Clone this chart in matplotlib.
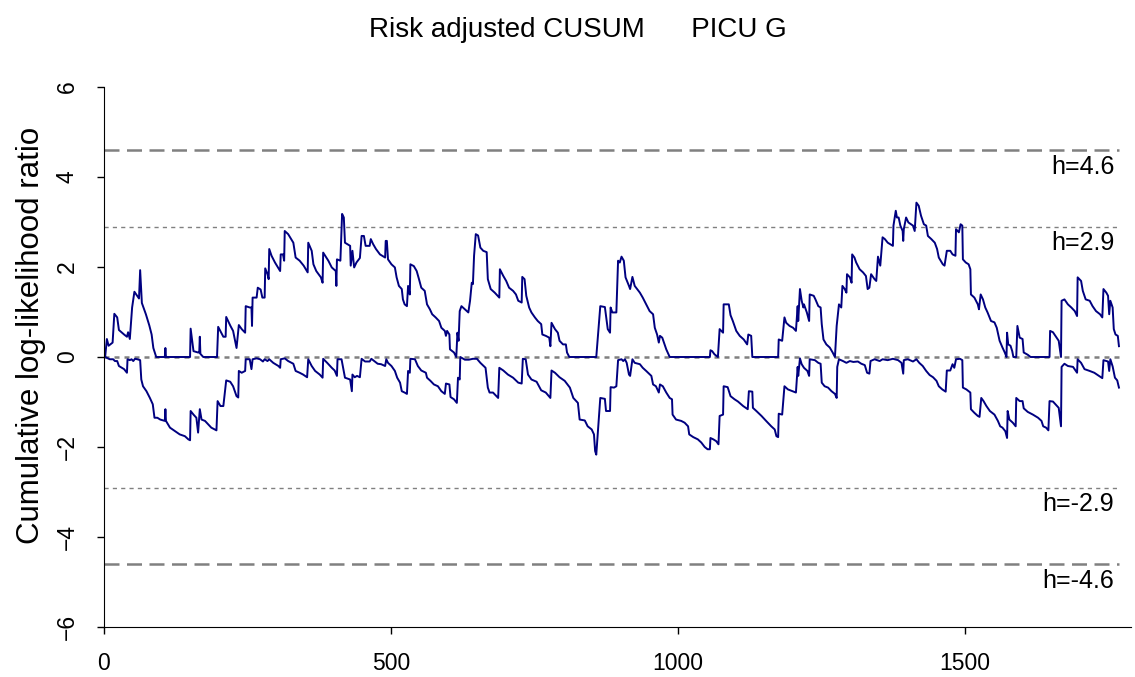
import matplotlib
matplotlib.use("Agg")
import matplotlib.pyplot as plt
import numpy as np

# upper CUSUM (detecting increase in risk), (case number, log-likelihood ratio)
upper = np.array([
    (2, 0), (5, 0.4), (8, 0.25), (15, 0.32), (18, 0.96), (23, 0.88), (26, 0.6), (35, 0.5),
    (40, 0.45), (42, 0.55), (45, 0.4), (49, 1.1), (53, 1.45), (61, 1.3), (63, 1.93), (66, 1.2),
    (73, 0.95), (79, 0.7), (83, 0.5), (86, 0.2), (91, 0), (106, 0), (107, 0.2), (108, 0),
    (150, 0), (151, 0.63), (156, 0.13), (164, 0.1), (166, 0.1), (167, 0.45), (168, 0.07), (173, 0),
    (197, 0), (199, 0.67), (208, 0.45), (212, 0.45), (213, 0.89), (220, 0.7), (225, 0.58), (231, 0.2),
    (235, 0.71), (240, 0.62), (246, 0.54), (247, 1.13), (254, 1.1), (257, 1.1), (258, 0.69), (259, 1.32),
    (266, 1.32), (268, 1.54), (273, 1.5), (276, 1.32), (280, 1.32), (281, 1.97), (285, 1.84), (287, 1.73),
    (288, 2.4), (292, 2.25), (298, 2.1), (307, 1.91), (308, 2.28), (312, 2.28), (314, 2.14), (315, 2.8),
    (321, 2.73), (330, 2.54), (334, 2.21), (341, 2.14), (348, 2.03), (355, 1.88), (356, 2.54), (362, 2.36),
    (365, 2.06), (370, 1.91), (378, 1.77), (381, 1.65), (382, 2.32), (391, 2.14), (397, 1.99), (404, 1.91),
    (405, 1.58), (406, 2.17), (412, 2.14), (415, 3.18), (418, 3.1), (420, 2.54), (429, 2.47), (430, 2.03),
    (433, 2.36), (436, 1.99), (440, 2.1), (446, 2.2), (449, 2.69), (453, 2.69), (456, 2.47), (463, 2.47),
    (465, 2.62), (469, 2.51), (474, 2.4), (481, 2.28), (490, 2.21), (491, 2.58), (493, 2.58), (495, 2.17),
    (501, 2.06), (507, 1.99), (510, 1.77), (514, 1.58), (519, 1.51), (521, 1.28), (524, 1.17), (528, 1.13),
    (530, 1.58), (533, 1.39), (534, 2.06), (540, 2.02), (545, 1.91), (549, 1.73), (553, 1.54), (559, 1.47),
    (563, 1.17), (568, 1.06), (572, 0.95), (578, 0.88), (584, 0.8), (588, 0.65), (594, 0.58), (596, 0.47),
    (598, 0.58), (602, 0.5), (603, 0.17), (610, 0.1), (614, 0), (616, 0.54), (618, 0.36), (620, 1.02),
    (623, 1.13), (629, 1.06), (635, 0.99), (638, 1.25), (641, 1.65), (643, 1.62), (645, 2.25), (648, 2.73),
    (652, 2.7), (656, 2.43), (661, 2.36), (667, 2.33), (669, 1.73), (674, 1.51), (681, 1.43), (689, 1.32),
    (690, 1.95), (696, 1.8), (701, 1.69), (706, 1.54), (713, 1.47), (718, 1.39), (722, 1.25), (728, 1.21),
    (729, 1.78), (733, 1.73), (736, 1.36), (741, 1.1), (745, 0.99), (751, 0.88), (756, 0.8), (762, 0.73),
    (764, 0.5), (770, 0.47), (776, 0.43), (778, 0.24), (780, 0.76), (786, 0.62), (791, 0.54), (794, 0.36),
    (800, 0.28), (805, 0.28), (807, 0.1), (811, 0), (858, 0), (865, 1.13), (873, 1.11), (875, 0.91),
    (878, 0.62), (882, 0.54), (883, 1.1), (886, 0.99), (893, 0.99), (896, 2.14), (899, 2.1), (902, 2.23),
    (906, 2.14), (909, 1.77), (915, 1.58), (917, 1.51), (921, 1.78), (925, 1.58), (934, 1.43), (939, 1.32),
    (945, 1.17), (951, 1.02), (957, 0.95), (960, 0.65), (964, 0.5), (967, 0.32), (969, 0.47), (973, 0.43),
    (977, 0.28), (980, 0.17), (986, 0), (1056, 0), (1057, 0.15), (1060, 0.13), (1064, 0.06), (1070, 0),
    (1073, 0.62), (1079, 0.54), (1080, 1.17), (1089, 1.17), (1092, 0.93), (1096, 0.8), (1102, 0.58), (1108, 0.47),
    (1115, 0.39), (1121, 0.28), (1123, 0.5), (1128, 0.47), (1130, 0), (1175, 0), (1176, 0.39), (1182, 0.36),
    (1186, 0.88), (1189, 0.76), (1195, 0.69), (1201, 0.65), (1206, 0.58), (1209, 1.13), (1210, 0.8), (1213, 1.51),
    (1216, 1.25), (1219, 1.1), (1220, 1.17), (1225, 0.99), (1229, 0.8), (1230, 1.39), (1237, 1.36), (1240, 1.28),
    (1245, 1.13), (1249, 1.1), (1251, 0.73), (1254, 0.39), (1259, 0.28), (1265, 0.21), (1270, 0.1), (1274, 0),
    (1277, 0.69), (1281, 1.17), (1285, 1.1), (1287, 1.58), (1291, 1.51), (1294, 1.43), (1295, 1.84), (1300, 1.77),
    (1303, 1.65), (1304, 2.28), (1308, 2.21), (1311, 2.1), (1317, 1.95), (1323, 1.88), (1328, 1.8), (1331, 1.51),
    (1334, 1.54), (1337, 1.84), (1343, 1.73), (1346, 1.69), (1349, 2.23), (1353, 2.03), (1357, 2.66), (1361, 2.62),
    (1366, 2.54), (1375, 2.47), (1376, 2.92), (1380, 3.25), (1382, 3.1), (1385, 3.1), (1388, 2.92), (1392, 2.8),
    (1393, 2.58), (1394, 2.84), (1398, 3.1), (1402, 2.99), (1410, 2.92), (1413, 2.8), (1416, 3.43), (1420, 3.36),
    (1424, 3.14), (1429, 2.95), (1433, 2.92), (1436, 2.69), (1442, 2.62), (1448, 2.54), (1452, 2.4), (1455, 2.21),
    (1462, 2.06), (1465, 2.03), (1469, 2.36), (1475, 2.36), (1479, 2.28), (1484, 2.25), (1485, 2.84), (1490, 2.77),
    (1493, 2.95), (1496, 2.92), (1497, 2.17), (1502, 2.1), (1507, 2.06), (1510, 1.95), (1511, 1.39), (1517, 1.32),
    (1523, 1.17), (1525, 1.06), (1528, 1.39), (1532, 1.28), (1536, 1.1), (1540, 0.99), (1546, 0.8), (1552, 0.77),
    (1556, 0.65), (1561, 0.36), (1566, 0.21), (1570, 0.1), (1573, 0), (1574, 0.54), (1576, 0.28), (1580, 0.25),
    (1583, 0.13), (1585, 0), (1590, 0), (1592, 0.69), (1596, 0.43), (1601, 0.4), (1603, 0.1), (1610, 0.05),
    (1615, 0), (1648, 0), (1649, 0.58), (1654, 0.55), (1664, 0.36), (1668, 0), (1669, 1.25), (1674, 1.28),
    (1680, 1.17), (1686, 1.1), (1692, 1.02), (1696, 0.91), (1697, 1.77), (1703, 1.69), (1706, 1.47), (1711, 1.28),
    (1718, 1.25), (1723, 1.13), (1729, 1.02), (1736, 0.95), (1740, 0.88), (1742, 1.51), (1747, 1.43), (1750, 1.36),
    (1752, 0.95), (1754, 1.25), (1758, 1.1), (1760, 0.62), (1763, 0.5), (1767, 0.47), (1769, 0.24),
])

# lower CUSUM (detecting decrease in risk)
lower = np.array([
    (2, 0), (10, -0.05), (16, -0.05), (19, -0.09), (23, -0.09), (26, -0.2), (31, -0.24), (35, -0.27),
    (40, -0.35), (41, -0.05), (45, -0.07), (48, -0.05), (51, -0.09), (54, -0.04), (58, -0.05), (63, -0.07),
    (65, -0.5), (68, -0.65), (74, -0.76), (80, -0.91), (85, -1.05), (88, -1.35), (93, -1.35), (98, -1.39),
    (106, -1.42), (107, -1.16), (108, -1.42), (115, -1.57), (124, -1.65), (132, -1.72), (141, -1.76), (147, -1.83),
    (150, -1.85), (151, -1.2), (156, -1.28), (161, -1.35), (164, -1.68), (167, -1.16), (170, -1.39), (176, -1.42),
    (179, -1.46), (187, -1.57), (196, -1.63), (198, -0.98), (203, -1.09), (208, -1.09), (213, -0.52), (220, -0.55),
    (225, -0.65), (231, -0.87), (234, -0.9), (235, -0.31), (240, -0.35), (246, -0.31), (247, -0.05), (254, -0.05),
    (257, -0.27), (259, -0.05), (266, -0.03), (272, -0.05), (277, -0.1), (280, -0.05), (285, -0.09), (288, -0.05),
    (295, -0.13), (304, -0.2), (307, -0.24), (308, -0.05), (315, -0.03), (321, -0.09), (330, -0.15), (334, -0.31),
    (341, -0.35), (347, -0.39), (354, -0.45), (356, -0.05), (362, -0.2), (368, -0.31), (376, -0.39), (381, -0.46),
    (382, -0.04), (389, -0.13), (397, -0.24), (402, -0.3), (406, -0.42), (407, -0.05), (414, -0.05), (420, -0.46),
    (429, -0.5), (432, -0.76), (433, -0.39), (437, -0.45), (441, -0.42), (446, -0.45), (449, -0.04), (455, -0.1),
    (463, -0.1), (466, -0.04), (472, -0.1), (477, -0.15), (483, -0.16), (490, -0.2), (492, -0.05), (495, -0.13),
    (501, -0.2), (507, -0.31), (511, -0.46), (516, -0.57), (519, -0.76), (524, -0.79), (528, -0.82), (530, -0.31),
    (533, -0.35), (534, -0.04), (542, -0.05), (547, -0.2), (553, -0.3), (561, -0.35), (563, -0.46), (569, -0.53),
    (575, -0.61), (582, -0.65), (588, -0.76), (594, -0.82), (596, -0.59), (602, -0.61), (604, -0.89), (610, -0.94),
    (615, -1.02), (617, -0.46), (620, -0.5), (621, 0), (629, -0.06), (636, -0.06), (643, -0.04), (650, -0.04),
    (656, -0.13), (665, -0.24), (669, -0.68), (672, -0.79), (678, -0.79), (687, -0.91), (689, -0.24), (696, -0.3),
    (704, -0.39), (713, -0.46), (722, -0.57), (728, -0.59), (730, -0.04), (735, -0.05), (739, -0.39), (745, -0.5),
    (754, -0.55), (762, -0.74), (770, -0.79), (778, -0.91), (780, -0.3), (786, -0.35), (794, -0.45), (803, -0.53),
    (812, -0.68), (818, -0.91), (826, -1.02), (829, -1.39), (838, -1.41), (843, -1.54), (850, -1.61), (854, -1.72),
    (856, -2.09), (858, -2.17), (865, -0.91), (873, -0.93), (875, -1.2), (882, -1.2), (883, -0.67), (889, -0.68),
    (893, -0.65), (896, -0.07), (902, -0.05), (905, -0.09), (908, -0.05), (911, -0.13), (915, -0.39), (917, -0.42),
    (921, -0.05), (925, -0.13), (934, -0.16), (939, -0.24), (945, -0.31), (954, -0.42), (957, -0.61), (962, -0.65),
    (967, -0.79), (969, -0.61), (974, -0.65), (980, -0.79), (986, -0.91), (990, -0.94), (991, -1.28), (997, -1.39),
    (1006, -1.42), (1012, -1.46), (1018, -1.54), (1020, -1.72), (1027, -1.78), (1035, -1.83), (1041, -1.9), (1047, -2.0),
    (1052, -2.05), (1056, -2.05), (1057, -1.8), (1062, -1.83), (1067, -1.87), (1071, -1.94), (1073, -1.31), (1079, -1.28),
    (1080, -0.65), (1087, -0.67), (1092, -0.87), (1099, -0.94), (1105, -0.99), (1114, -1.09), (1122, -1.16), (1124, -0.76),
    (1130, -0.77), (1131, -1.13), (1137, -1.2), (1146, -1.31), (1154, -1.42), (1163, -1.54), (1169, -1.61), (1172, -1.76),
    (1175, -1.78), (1176, -1.26), (1182, -1.28), (1186, -0.65), (1192, -0.72), (1200, -0.76), (1206, -0.79), (1209, -0.22),
    (1210, -0.42), (1213, -0.03), (1216, -0.16), (1220, -0.24), (1226, -0.31), (1229, -0.42), (1230, -0.05), (1239, -0.07),
    (1245, -0.13), (1249, -0.15), (1251, -0.57), (1256, -0.65), (1262, -0.68), (1268, -0.76), (1274, -0.82), (1277, -0.91),
    (1278, -0.22), (1281, -0.05), (1288, -0.09), (1294, -0.13), (1300, -0.09), (1306, -0.11), (1314, -0.1), (1320, -0.15),
    (1326, -0.18), (1330, -0.35), (1334, -0.37), (1336, -0.09), (1343, -0.05), (1352, -0.09), (1357, -0.05), (1366, -0.07),
    (1375, -0.04), (1384, -0.07), (1390, -0.13), (1393, -0.37), (1394, -0.07), (1401, -0.05), (1410, -0.1), (1416, -0.05),
    (1421, -0.13), (1427, -0.2), (1433, -0.31), (1439, -0.4), (1445, -0.45), (1451, -0.53), (1455, -0.65), (1461, -0.72),
    (1467, -0.77), (1469, -0.3), (1475, -0.3), (1479, -0.16), (1482, -0.24), (1485, -0.05), (1492, -0.04), (1496, -0.07),
    (1497, -0.68), (1503, -0.72), (1510, -0.79), (1511, -1.16), (1517, -1.24), (1523, -1.31), (1526, -1.33), (1529, -0.91),
    (1533, -0.98), (1538, -1.09), (1544, -1.2), (1552, -1.28), (1558, -1.42), (1562, -1.54), (1566, -1.57), (1571, -1.65),
    (1574, -1.8), (1575, -1.2), (1578, -1.39), (1584, -1.46), (1589, -1.54), (1590, -0.91), (1596, -0.98), (1601, -0.98),
    (1603, -1.14), (1610, -1.22), (1619, -1.28), (1628, -1.35), (1634, -1.42), (1637, -1.54), (1642, -1.57), (1646, -1.63),
    (1648, -0.98), (1654, -0.99), (1664, -1.13), (1668, -1.54), (1669, -0.22), (1674, -0.15), (1680, -0.2), (1689, -0.22),
    (1696, -0.35), (1697, -0.05), (1703, -0.13), (1709, -0.27), (1718, -0.31), (1726, -0.35), (1734, -0.42), (1740, -0.47),
    (1742, -0.07), (1747, -0.09), (1750, -0.1), (1752, -0.31), (1754, -0.05), (1758, -0.21), (1762, -0.46), (1766, -0.52),
    (1769, -0.68),
])

# control limits
h_outer = [4.6, -4.6]
h_inner = [2.9, -2.9]
n_cases = 1769

plt.rcParams['font.family'] = ['Liberation Sans', 'DejaVu Sans']

fig = plt.figure(figsize=(11.35, 6.77), dpi=100)
ax = fig.add_axes([104 / 1135, 50 / 677, 1027 / 1135, 540 / 677])

grey = '#808080'
for h in h_outer:
    ax.plot([0, n_cases], [h, h], color=grey, lw=1.8, linestyle=(0, (6, 3)))
for h in h_inner:
    ax.plot([0, n_cases], [h, h], color=grey, lw=1.0, linestyle=(0, (3, 3)))
ax.plot([0, n_cases], [0, 0], color=grey, lw=1.8, linestyle=(0, (2, 2)))

ax.plot(upper[:, 0], upper[:, 1], color='#000080', lw=1.4)
ax.plot(lower[:, 0], lower[:, 1], color='#000080', lw=1.4)

for h in h_outer + h_inner:
    ax.text(n_cases - 8, h - 0.1, 'h=%.1f' % h, ha='right', va='top', fontsize=18)

ax.set_xlim(0, 1790)
ax.set_ylim(-6, 6)
ax.set_xticks([0, 500, 1000, 1500])
ax.set_yticks(range(-6, 7, 2))
ax.spines['top'].set_visible(False)
ax.spines['right'].set_visible(False)
ax.tick_params(axis='both', labelsize=16.5, length=5, width=1)
ax.tick_params(axis='y', pad=13)
ax.tick_params(axis='x', pad=13)
for lbl in ax.get_yticklabels():
    lbl.set_rotation(90)
    lbl.set_va('center')

ax.set_ylabel('Cumulative log-likelihood ratio', fontsize=22.5)
ax.yaxis.set_label_coords(-0.056, 0.54)
fig.suptitle('Risk adjusted CUSUM      PICU G', fontsize=20, x=0.509, y=0.975, va='top')

fig.savefig('out.png', dpi=100)
